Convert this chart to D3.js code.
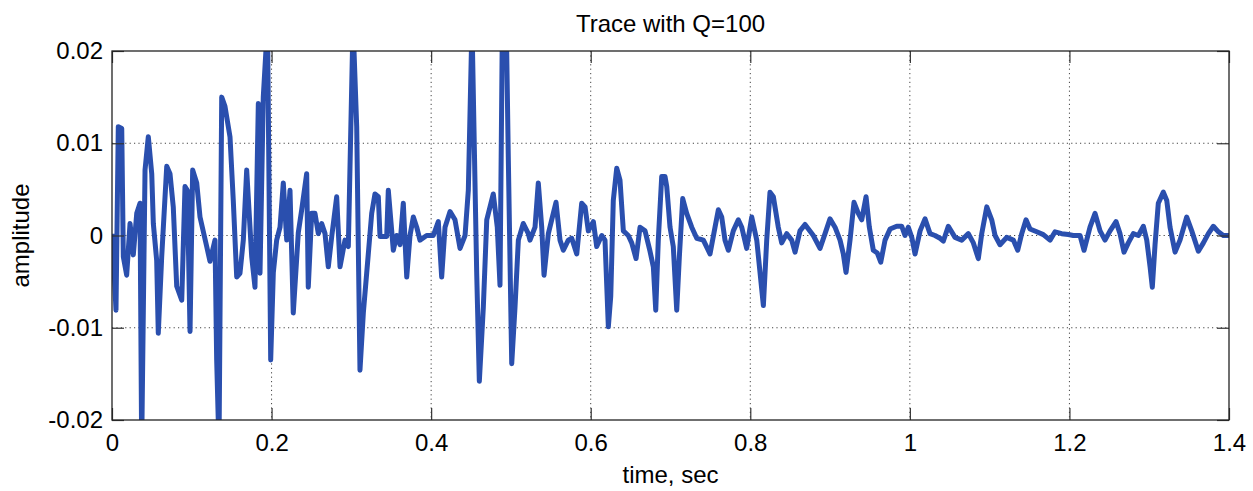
<!DOCTYPE html>
<html>
<head>
<meta charset="utf-8">
<script src="https://cdn.jsdelivr.net/npm/d3@7"></script>
<style>
  body { margin: 0; background: #fff; }
  text { font-family: "Liberation Sans", Arial, sans-serif; fill: #000; }
</style>
</head>
<body>
<div id="chart"></div>
<script>
// Tick values and labels
const xTicks = [0, 0.2, 0.4, 0.6, 0.8, 1, 1.2, 1.4];
const xTickLabels = ["0", "0.2", "0.4", "0.6", "0.8", "1", "1.2", "1.4"];
const yTicks = [-0.02, -0.01, 0, 0.01, 0.02];
const yTickLabels = ["-0.02", "-0.01", "0", "0.01", "0.02"];

// Trace samples: [time in sec, amplitude]
const trace = [
  [0.0009, 0.0002], [0.0016, -0.0019], [0.0050, -0.0081], [0.0079, 0.0118], [0.0122, 0.0116],
  [0.0142, -0.0023], [0.0184, -0.0043], [0.0226, 0.0013], [0.0267, -0.0021], [0.0310, 0.0024],
  [0.0351, 0.0035], [0.0372, -0.0230], [0.0414, 0.0071], [0.0455, 0.0107], [0.0498, 0.0067],
  [0.0518, 0.0013], [0.0560, -0.0027], [0.0580, -0.0106], [0.0623, -0.0023], [0.0686, 0.0075],
  [0.0727, 0.0067], [0.0768, 0.0031], [0.0811, -0.0055], [0.0874, -0.0070], [0.0915, 0.0053],
  [0.0944, 0.0049], [0.0978, -0.0104], [0.1011, 0.0071], [0.1062, 0.0057], [0.1103, 0.0020],
  [0.1187, -0.0012], [0.1228, -0.0028], [0.1291, -0.0005], [0.1312, -0.0135], [0.1341, -0.0230],
  [0.1375, 0.0150], [0.1416, 0.0140], [0.1479, 0.0107], [0.1520, 0.0038], [0.1563, -0.0045],
  [0.1604, -0.0041], [0.1646, -0.0005], [0.1688, 0.0071], [0.1751, -0.0023], [0.1792, -0.0056],
  [0.1834, 0.0143], [0.1855, -0.0041], [0.1896, 0.0150], [0.1949, 0.0230], [0.1989, -0.0135],
  [0.2022, -0.0040], [0.2064, -0.0005], [0.2106, 0.0009], [0.2147, 0.0057], [0.2190, -0.0005],
  [0.2231, 0.0049], [0.2272, -0.0084], [0.2335, 0.0003], [0.2378, 0.0028], [0.2440, 0.0067],
  [0.2460, -0.0056], [0.2503, 0.0024], [0.2544, 0.0024], [0.2586, 0.0002], [0.2628, 0.0013],
  [0.2670, 0.0002], [0.2711, -0.0034], [0.2754, -0.0001], [0.2816, 0.0042], [0.2858, -0.0034],
  [0.2920, -0.0005], [0.2962, -0.0012], [0.3021, 0.0230], [0.3067, 0.0118], [0.3108, -0.0146],
  [0.3150, -0.0084], [0.3192, -0.0041], [0.3255, 0.0024], [0.3296, 0.0045], [0.3338, 0.0042],
  [0.3359, -0.0001], [0.3443, -0.0001], [0.3463, 0.0049], [0.3526, -0.0016], [0.3568, 0.0000],
  [0.3610, -0.0010], [0.3651, 0.0035], [0.3694, -0.0045], [0.3735, 0.0000], [0.3777, 0.0020],
  [0.3819, 0.0009], [0.3860, -0.0005], [0.3944, 0.0000], [0.4027, 0.0000], [0.4090, 0.0015],
  [0.4132, -0.0045], [0.4174, 0.0009], [0.4237, 0.0026], [0.4299, 0.0017], [0.4362, -0.0014],
  [0.4425, 0.0000], [0.4466, 0.0049], [0.4512, 0.0230], [0.4571, -0.0041], [0.4604, -0.0158],
  [0.4654, -0.0078], [0.4697, 0.0017], [0.4738, 0.0031], [0.4779, 0.0045], [0.4829, 0.0009],
  [0.4863, -0.0054], [0.4895, 0.0250], [0.4938, 0.0250], [0.4967, 0.0085], [0.5010, -0.0139],
  [0.5051, -0.0078], [0.5093, -0.0005], [0.5155, 0.0013], [0.5218, 0.0002], [0.5239, -0.0005],
  [0.5302, 0.0009], [0.5343, 0.0057], [0.5386, 0.0009], [0.5415, -0.0043], [0.5469, 0.0002],
  [0.5511, 0.0017], [0.5565, 0.0036], [0.5615, -0.0005], [0.5657, -0.0016], [0.5719, -0.0005],
  [0.5762, -0.0003], [0.5825, -0.0020], [0.5887, 0.0035], [0.5929, 0.0031], [0.5970, 0.0005],
  [0.6033, 0.0015], [0.6075, -0.0012], [0.6138, 0.0000], [0.6179, -0.0005], [0.6221, -0.0099],
  [0.6251, -0.0066], [0.6283, 0.0038], [0.6326, 0.0073], [0.6367, 0.0060], [0.6409, 0.0005],
  [0.6471, 0.0000], [0.6514, -0.0008], [0.6568, -0.0025], [0.6618, 0.0009], [0.6681, 0.0005],
  [0.6743, -0.0017], [0.6785, -0.0034], [0.6815, -0.0081], [0.6847, -0.0005], [0.6890, 0.0064],
  [0.6931, 0.0064], [0.6953, 0.0053], [0.6994, 0.0009], [0.7035, -0.0012], [0.7078, -0.0081],
  [0.7111, -0.0023], [0.7153, 0.0040], [0.7203, 0.0024], [0.7266, 0.0009], [0.7329, -0.0003],
  [0.7412, -0.0005], [0.7495, -0.0020], [0.7558, 0.0009], [0.7600, 0.0028], [0.7642, 0.0020],
  [0.7683, -0.0005], [0.7725, -0.0016], [0.7787, 0.0005], [0.7850, 0.0017], [0.7893, 0.0009],
  [0.7955, -0.0014], [0.8018, 0.0020], [0.8081, -0.0005], [0.8122, -0.0040], [0.8164, -0.0076],
  [0.8206, -0.0005], [0.8247, 0.0047], [0.8289, 0.0042], [0.8351, 0.0009], [0.8394, -0.0008],
  [0.8457, 0.0002], [0.8519, -0.0005], [0.8561, -0.0018], [0.8623, 0.0005], [0.8686, 0.0012],
  [0.8790, 0.0000], [0.8874, -0.0014], [0.8937, 0.0002], [0.8999, 0.0018], [0.9062, 0.0009],
  [0.9125, -0.0005], [0.9166, -0.0020], [0.9200, -0.0040], [0.9250, -0.0005], [0.9300, 0.0036],
  [0.9354, 0.0024], [0.9397, 0.0017], [0.9451, 0.0042], [0.9492, 0.0009], [0.9542, -0.0016],
  [0.9592, -0.0019], [0.9635, -0.0029], [0.9689, -0.0005], [0.9752, 0.0007], [0.9835, 0.0010],
  [0.9898, 0.0010], [0.9939, 0.0000], [0.9981, 0.0009], [1.0024, -0.0002], [1.0065, -0.0020],
  [1.0128, 0.0005], [1.0190, 0.0018], [1.0253, 0.0002], [1.0315, 0.0000], [1.0378, -0.0003],
  [1.0420, -0.0006], [1.0482, 0.0010], [1.0566, -0.0002], [1.0650, -0.0005], [1.0733, 0.0002],
  [1.0796, -0.0008], [1.0858, -0.0025], [1.0901, 0.0002], [1.0964, 0.0031], [1.1026, 0.0017],
  [1.1068, 0.0000], [1.1130, -0.0010], [1.1214, -0.0002], [1.1297, -0.0005], [1.1352, -0.0016],
  [1.1402, 0.0002], [1.1456, 0.0017], [1.1506, 0.0007], [1.1590, 0.0004], [1.1673, 0.0001],
  [1.1757, -0.0005], [1.1820, 0.0004], [1.1903, 0.0002], [1.1986, 0.0001], [1.2049, 0.0000],
  [1.2133, 0.0000], [1.2183, -0.0016], [1.2258, 0.0009], [1.2321, 0.0024], [1.2384, 0.0005],
  [1.2446, -0.0005], [1.2509, 0.0005], [1.2584, 0.0015], [1.2634, 0.0002], [1.2684, -0.0018],
  [1.2738, -0.0008], [1.2801, 0.0002], [1.2864, 0.0000], [1.2927, 0.0010], [1.2969, -0.0005],
  [1.3011, -0.0034], [1.3039, -0.0056], [1.3073, -0.0010], [1.3114, 0.0035], [1.3177, 0.0047],
  [1.3220, 0.0038], [1.3261, 0.0009], [1.3324, -0.0018], [1.3386, -0.0005], [1.3470, 0.0020],
  [1.3533, 0.0005], [1.3616, -0.0017], [1.3679, -0.0008], [1.3741, 0.0002], [1.3804, 0.0010],
  [1.3867, 0.0004], [1.3929, 0.0000], [1.4000, 0.0000]
];

// Chart dimensions
const W = 1253, H = 491;
const margin = { top: 51, right: 24, bottom: 71, left: 112 },
      width  = W - margin.left - margin.right,
      height = H - margin.top  - margin.bottom;

const svg = d3.select("#chart")
  .append("svg")
  .attr("width", W)
  .attr("height", H);

const g = svg.append("g")
  .attr("transform", `translate(${margin.left},${margin.top})`);

// Scales
const x = d3.scaleLinear().domain([0, 1.4]).range([0, width]);
const y = d3.scaleLinear().domain([-0.02, 0.02]).range([height, 0]);

// Clip for the trace
svg.append("defs").append("clipPath")
  .attr("id", "plot-clip")
  .append("rect")
  .attr("width", width)
  .attr("height", height);

// Dotted grid
g.append("g").selectAll("line.vgrid")
  .data(xTicks.slice(1, -1))
  .enter().append("line")
  .attr("x1", d => x(d)).attr("x2", d => x(d))
  .attr("y1", 0).attr("y2", height)
  .attr("stroke", "#444")
  .attr("stroke-width", 1)
  .attr("stroke-dasharray", "1.2,3.2");

g.append("g").selectAll("line.hgrid")
  .data(yTicks.slice(1, -1))
  .enter().append("line")
  .attr("x1", 0).attr("x2", width)
  .attr("y1", d => y(d)).attr("y2", d => y(d))
  .attr("stroke", "#444")
  .attr("stroke-width", 1)
  .attr("stroke-dasharray", "1.2,3.2");

// Trace
const line = d3.line()
  .x(d => x(d[0]))
  .y(d => y(d[1]));

g.append("path")
  .datum(trace)
  .attr("clip-path", "url(#plot-clip)")
  .attr("fill", "none")
  .attr("stroke", "#2a4fae")
  .attr("stroke-width", 5)
  .attr("stroke-linejoin", "round")
  .attr("d", line);

// Axes, ticks pointing inward
const fontSize = "24px";

const xAxisG = g.append("g")
  .attr("transform", `translate(0,${height})`)
  .call(d3.axisBottom(x)
    .tickValues(xTicks)
    .tickFormat((d, i) => xTickLabels[i])
    .tickSize(-12)
    .tickPadding(14));

const yAxisG = g.append("g")
  .call(d3.axisLeft(y)
    .tickValues(yTicks)
    .tickFormat((d, i) => yTickLabels[i])
    .tickSize(-12)
    .tickPadding(9));

const topAxisG = g.append("g")
  .call(d3.axisTop(x).tickValues(xTicks).tickFormat("").tickSize(-12));

const rightAxisG = g.append("g")
  .attr("transform", `translate(${width},0)`)
  .call(d3.axisRight(y).tickValues(yTicks).tickFormat("").tickSize(-12));

[xAxisG, yAxisG, topAxisG, rightAxisG].forEach(a => {
  a.select(".domain").remove();
  a.selectAll(".tick line").attr("stroke", "#333").attr("stroke-width", 1.2);
  a.selectAll(".tick text")
    .style("font-size", fontSize)
    .style("font-family", "'Liberation Sans', Arial, sans-serif")
    .attr("fill", "#000");
});

// Axes box
g.append("rect")
  .attr("width", width)
  .attr("height", height)
  .attr("fill", "none")
  .attr("stroke", "#222")
  .attr("stroke-width", 1.3);

// Title and axis labels
svg.append("text")
  .attr("x", margin.left + width / 2)
  .attr("y", 32)
  .attr("text-anchor", "middle")
  .style("font-size", fontSize)
  .text("Trace with Q=100");

svg.append("text")
  .attr("x", margin.left + width / 2)
  .attr("y", 483)
  .attr("text-anchor", "middle")
  .style("font-size", fontSize)
  .text("time, sec");

svg.append("text")
  .attr("transform", `translate(29,${margin.top + y(0)}) rotate(-90)`)
  .attr("text-anchor", "middle")
  .style("font-size", fontSize)
  .text("amplitude");
</script>
</body>
</html>
